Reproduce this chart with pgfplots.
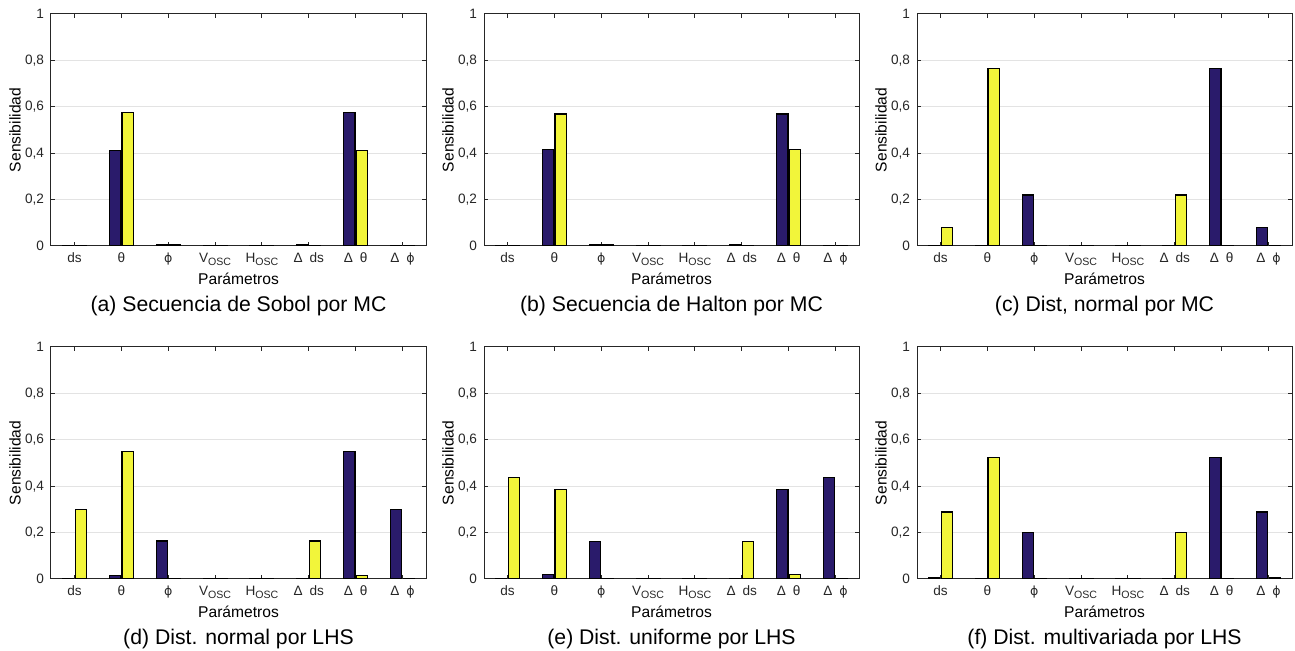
\documentclass[border=0pt]{standalone}
\usepackage{fontspec}
\setmainfont{Liberation Sans}
\newfontfamily\djv{DejaVu Sans}
\usepackage{pgfplots}
\usepackage{pgfplotstable}
\pgfplotsset{compat=1.18}

\definecolor{navy}{HTML}{2A1B6B}
\definecolor{ylw}{HTML}{F2F53A}
\definecolor{axgray}{HTML}{262626}
\definecolor{grd}{HTML}{E3E3E3}

\newcommand{\vphi}{{\djv\fontsize{6.3}{8}\selectfont ϕ}}
\newcommand{\osc}{\raisebox{-0.4ex}{\fontsize{5.3}{6}\selectfont OSC}}

% x a(dark) b(yellow)
\pgfplotstableread{
x a b
1 0.002 0.002
2 0.413 0.576
3 0.004 0.005
4 0.001 0.001
5 0.001 0.001
6 0.004 0.002
7 0.576 0.413
8 0.002 0.002
}\sobol
\pgfplotstableread{
x a b
1 0.002 0.002
2 0.417 0.569
3 0.004 0.005
4 0.001 0.001
5 0.001 0.001
6 0.005 0.002
7 0.569 0.417
8 0.002 0.002
}\halton
\pgfplotstableread{
x a b
1 0.001 0.079
2 0.001 0.766
3 0.220 0.003
4 0.001 0.001
5 0.001 0.001
6 0.001 0.220
7 0.766 0.001
8 0.079 0.001
}\normmc
\pgfplotstableread{
x a b
1 0.001 0.298
2 0.016 0.551
3 0.164 0.001
4 0.001 0.001
5 0.001 0.001
6 0.001 0.164
7 0.551 0.016
8 0.298 0.001
}\normlhs
\pgfplotstableread{
x a b
1 0.001 0.436
2 0.021 0.386
3 0.161 0.002
4 0.001 0.001
5 0.001 0.001
6 0.002 0.161
7 0.386 0.021
8 0.436 0.001
}\unilhs
\pgfplotstableread{
x a b
1 0.004 0.289
2 0.001 0.522
3 0.200 0.002
4 0.001 0.001
5 0.001 0.001
6 0.001 0.200
7 0.522 0.002
8 0.289 0.004
}\multlhs

\pgfplotsset{
  every axis title shift=0pt,
  sens/.style={
    anchor=south west,
    width=187.5pt, height=116pt, scale only axis,
    xmin=0.5, xmax=8.5, ymin=0, ymax=1,
    xtick={1,...,8},
    xticklabels={ds, θ, \vphi, V\osc, H\osc,
      Δ\hspace{0.5em}ds, Δ\hspace{0.5em}θ, Δ\hspace{0.5em}\vphi},
    ytick={0,0.2,...,1},
    /pgf/number format/.cd, use comma, assume math mode=true, /pgfplots/.cd,
    ymajorgrids, major grid style={grd, line width=0.5pt},
    axis line style={axgray, line width=0.5pt},
    major tick style={axgray, line width=0.5pt},
    major tick length=2pt,
    tick label style={font=\fontsize{6.8}{8}\selectfont, text=axgray},
    label style={font=\fontsize{7.8}{9}\selectfont},
    xlabel={Parámetros}, ylabel={Sensibilidad},
    xlabel style={at={(axis description cs:0.5,-0.142)}, anchor=center},
    ylabel style={at={(axis description cs:-0.096,0.5)}, anchor=center},
    title style={at={(axis description cs:0.5,-0.259)}, anchor=center,
      font=\fontsize{10.6}{12}\selectfont},
  },
}

\newcommand{\panel}[4]{%
\begin{axis}[sens, at={(#1,#2)}, title={#4}]
\addplot[ybar, bar width=0.24, bar shift=-0.135, fill=navy, draw=black, line width=0.6pt]
  table[x=x, y=a]{#3};
\addplot[ybar, bar width=0.24, bar shift=0.135, fill=ylw, draw=black, line width=0.6pt]
  table[x=x, y=b]{#3};
\end{axis}}

\begin{document}
\begin{tikzpicture}
\useasboundingbox (0,0) rectangle (647.5pt,325.5pt);
\panel{25.5pt}{202.5pt}{\sobol}{(a) Secuencia de Sobol por MC}
\panel{242pt}{202.5pt}{\halton}{(b) Secuencia de Halton por MC}
\panel{458.5pt}{202.5pt}{\normmc}{(c) Dist, normal por MC}
\panel{25.5pt}{36pt}{\normlhs}{(d) Dist. normal por LHS}
\panel{242pt}{36pt}{\unilhs}{(e) Dist. uniforme por LHS}
\panel{458.5pt}{36pt}{\multlhs}{(f) Dist. multivariada por LHS}
\end{tikzpicture}
\end{document}
